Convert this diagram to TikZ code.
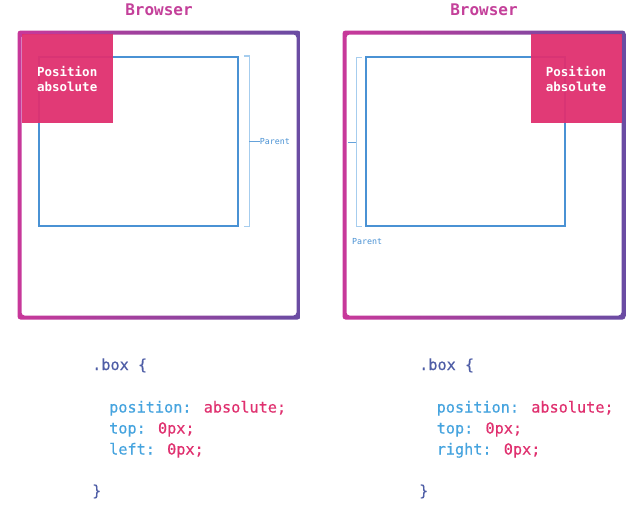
\documentclass[tikz,border=0pt]{standalone}
\usepackage{fontspec}
\setmonofont{DejaVu Sans Mono}
\newfontfamily\codefont[FakeBold=0.4]{DejaVu Sans Mono}
\usepackage{xcolor}
\usetikzlibrary{positioning,calc}

\definecolor{brleft}{HTML}{C8389A}
\definecolor{brright}{HTML}{6A4CA3}
\definecolor{brtitle}{HTML}{C4409A}
\definecolor{abspink}{HTML}{E0306F}
\definecolor{parblue}{HTML}{4A92D4}
\definecolor{brackblue}{HTML}{A6CDEE}
\definecolor{selc}{HTML}{4E5DA6}
\definecolor{propc}{HTML}{46A4DF}
\definecolor{valc}{HTML}{E0306F}

\begin{document}
\begin{tikzpicture}[x=1pt,y=-1pt,
    frame/.style={left color=brleft, right color=brright, even odd rule, rounded corners=3pt},
    title/.style={font=\ttfamily\bfseries\fontsize{16}{18}\selectfont, text=brtitle, anchor=base, inner sep=0pt},
    posbox/.style={fill=abspink, fill opacity=0.95, text opacity=1, text=white, minimum width=91pt, minimum height=89pt, inner sep=0pt, align=center, font=\ttfamily\bfseries\fontsize{12.5}{15}\selectfont},
    parentbox/.style={draw=parblue, line width=1.7pt, minimum width=199pt, minimum height=169pt, inner sep=0pt},
    brack/.style={draw=brackblue, line width=1.2pt},
    tick/.style={draw=parblue!85, line width=1pt},
    parlabel/.style={text=parblue, font=\ttfamily\fontsize{8.3}{9}\selectfont, inner sep=0pt},
    code/.style={font=\codefont\fontsize{15.2}{18}\selectfont, anchor=base west, inner sep=0pt}]
  \useasboundingbox[fill=white] (0,0) rectangle (632,520);

  \node[title] (titleL) at (159,15) {Browser};
  \node[title] (titleR) at (484,15) {Browser};

  \shade[frame] (17.5,30.5) rectangle (300.5,319.5) (21.5,34.5) rectangle (296.5,315.5);
  \shade[frame] (342.5,30.5) rectangle (625.5,319.5) (346.5,34.5) rectangle (621.5,315.5);

  \node[parentbox] (parL) at (138.3,141.3) {};
  \node[parentbox] (parR) at (465.8,141.5) {};

  \node[posbox] (absL) at (67.2,78.8) {Position\\absolute};
  \node[posbox] (absR) at (576,78.8) {Position\\absolute};

  \coordinate (bLt) at ($(parL.north east)+(10.5,0)$);
  \coordinate (bLb) at ($(parL.south east)+(10.5,0)$);
  \draw[brack] ($(bLt)+(-5,0)$) -- (bLt) -- (bLb) -- ($(bLb)+(-5,0)$);
  \coordinate (bLm) at ($(bLt)!0.5!(bLb)$);
  \node[parlabel, anchor=west] (parentL) at ($(bLm)+(10.5,0)$) {Parent};
  \draw[tick] (bLm) -- (parentL.west);

  \coordinate (bRt) at ($(parR.north west)+(-9,1)$);
  \coordinate (bRb) at ($(parR.south west)+(-9,0)$);
  \draw[brack] ($(bRt)+(5.5,0)$) -- (bRt) -- (bRb) -- ($(bRb)+(5.5,0)$);
  \coordinate (bRm) at ($(bRt)!0.5!(bRb)$);
  \coordinate (tRm) at ($(bRm)+(-8,0)$);
  \draw[tick] (tRm) -- (bRm);
  \node[parlabel, anchor=base west] (parentR) at (352,244) {Parent};

  \node[code, text=selc] (selL) at (92,370) {.box \{};
  \node[code] (posL) at (109,412.5) {\color{propc}position: \color{valc}absolute;};
  \node[code] (topL) at (109,433.5) {\color{propc}top: \color{valc}0px;};
  \node[code] (leftL) at (109,454.5) {\color{propc}left: \color{valc}0px;};
  \node[code, text=selc] (endL) at (92,496) {\}};

  \node[code, text=selc] (selR) at (419,370) {.box \{};
  \node[code] (posR) at (436.5,412.5) {\color{propc}position: \color{valc}absolute;};
  \node[code] (topR) at (436.5,433.5) {\color{propc}top: \color{valc}0px;};
  \node[code] (rightR) at (436.5,454.5) {\color{propc}right: \color{valc}0px;};
  \node[code, text=selc] (endR) at (419,496) {\}};
\end{tikzpicture}
\end{document}
